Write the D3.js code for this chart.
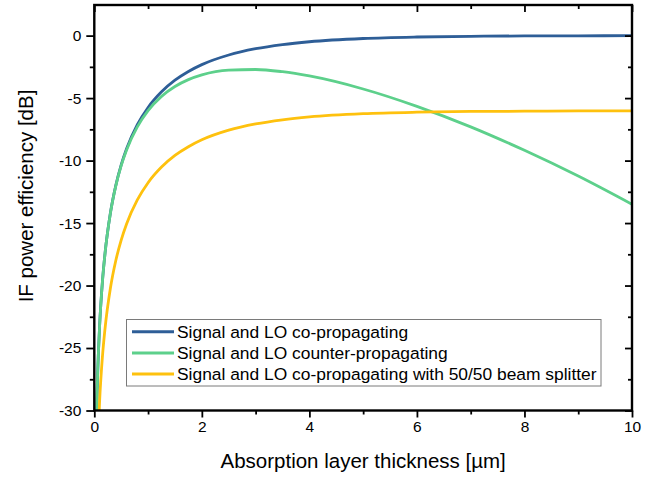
<!DOCTYPE html>
<html>
<head>
<meta charset="utf-8">
<script src="https://cdn.jsdelivr.net/npm/d3@7/dist/d3.min.js"></script>
<style>
  html, body { margin: 0; padding: 0; background: #fff; }
  svg { display: block; font-family: "Liberation Sans", Arial, sans-serif; }
</style>
</head>
<body>
<svg id="chart" width="663" height="478"></svg>
<script>
// Absorption layer thickness [µm]
const thickness = [0.03, 0.05, 0.075, 0.1, 0.15, 0.2, 0.3, 0.4, 0.5, 0.6, 0.8, 1.0, 1.25, 1.5, 1.75,
                   2.0, 2.5, 3.0, 3.5, 4.0, 5, 6, 7, 8, 9, 10];

// IF power efficiency [dB] for each configuration
const coPropagating = [-33.35, -28.97, -25.53, -23.11, -19.74, -17.40, -14.18, -11.98, -10.34, -9.05, -7.13,
                       -5.75, -4.50, -3.57, -2.87, -2.32, -1.55, -1.05, -0.72, -0.49, -0.23, -0.11, -0.054,
                       -0.026, -0.013, -0.006];
const counterPropagating = [-33.35, -28.97, -25.54, -23.12, -19.75, -17.41, -14.20, -12.02, -10.41, -9.15, -7.30,
                            -6.00, -4.86, -4.07, -3.52, -3.14, -2.76, -2.71, -2.89, -3.23, -4.27, -5.66, -7.30,
                            -9.18, -11.24, -13.50];
const coPropagatingSplitter = [-39.37, -34.99, -31.55, -29.13, -25.76, -23.42, -20.20, -18.00, -16.36, -15.07, -13.15,
                               -11.77, -10.52, -9.59, -8.89, -8.34, -7.57, -7.07, -6.74, -6.51, -6.25, -6.13, -6.07,
                               -6.05, -6.03, -6.03];

const seriesNames = [
  "Signal and LO co-propagating",
  "Signal and LO counter-propagating",
  "Signal and LO co-propagating with 50/50 beam splitter"
];
const seriesColors = ["#2e5e97", "#5dd08b", "#fec10e"];
const seriesValues = [coPropagating, counterPropagating, coPropagatingSplitter];

const xMajorTicks = [0, 2, 4, 6, 8, 10];
const xMinorTicks = [1, 3, 5, 7, 9];
const yMajorTicks = [-30, -25, -20, -15, -10, -5, 0];
const yMinorTicks = [-27.5, -22.5, -17.5, -12.5, -7.5, -2.5];

const svg = d3.select("#chart");
const plot = { left: 94.3, right: 632, top: 5, bottom: 410.5 };

const x = d3.scaleLinear().domain([0, 10]).range([plot.left, plot.right]);
const y = d3.scaleLinear().domain([-30, 2.45]).range([plot.bottom, plot.top]);

svg.append("rect").attr("width", 663).attr("height", 478).attr("fill", "#fff");

svg.append("defs").append("clipPath").attr("id", "plot-clip")
  .append("rect")
  .attr("x", plot.left).attr("y", plot.top)
  .attr("width", plot.right - plot.left).attr("height", plot.bottom - plot.top);

// curves
const line = d3.line()
  .x(d => x(d[0]))
  .y(d => y(d[1]))
  .curve(d3.curveMonotoneX);

const curves = svg.append("g").attr("clip-path", "url(#plot-clip)");
seriesValues.forEach((vals, i) => {
  curves.append("path")
    .datum(thickness.map((t, j) => [t, vals[j]]))
    .attr("fill", "none")
    .attr("stroke", seriesColors[i])
    .attr("stroke-width", 2.8)
    .attr("stroke-linejoin", "round")
    .attr("d", line);
});

// axes
const fmt = d => String(d);
function styleAxis(g, labelSize) {
  g.select(".domain").remove();
  g.selectAll(".tick line").attr("stroke", "#000").attr("stroke-width", 1.8);
  g.selectAll(".tick text").attr("fill", "#000").style("font-size", labelSize + "px")
    .style("font-family", "'Liberation Sans', Arial, sans-serif");
}

const bottomMajor = svg.append("g").attr("transform", `translate(0,${plot.bottom})`)
  .call(d3.axisBottom(x).tickValues(xMajorTicks).tickSize(7).tickPadding(3).tickFormat(fmt));
styleAxis(bottomMajor, 15.5);
const bottomMinor = svg.append("g").attr("transform", `translate(0,${plot.bottom})`)
  .call(d3.axisBottom(x).tickValues(xMinorTicks).tickSize(4).tickFormat(""));
styleAxis(bottomMinor, 15.5);

const topMajor = svg.append("g").attr("transform", `translate(0,${plot.top})`)
  .call(d3.axisTop(x).tickValues(xMajorTicks).tickSize(-7).tickFormat(""));
styleAxis(topMajor, 15.5);
const topMinor = svg.append("g").attr("transform", `translate(0,${plot.top})`)
  .call(d3.axisTop(x).tickValues(xMinorTicks).tickSize(-4).tickFormat(""));
styleAxis(topMinor, 15.5);

const leftMajor = svg.append("g").attr("transform", `translate(${plot.left},0)`)
  .call(d3.axisLeft(y).tickValues(yMajorTicks).tickSize(8).tickPadding(5).tickFormat(fmt));
styleAxis(leftMajor, 15.5);
const leftMinor = svg.append("g").attr("transform", `translate(${plot.left},0)`)
  .call(d3.axisLeft(y).tickValues(yMinorTicks).tickSize(4.5).tickFormat(""));
styleAxis(leftMinor, 15.5);

const rightMajor = svg.append("g").attr("transform", `translate(${plot.right},0)`)
  .call(d3.axisRight(y).tickValues(yMajorTicks).tickSize(-7).tickFormat(""));
styleAxis(rightMajor, 15.5);
const rightMinor = svg.append("g").attr("transform", `translate(${plot.right},0)`)
  .call(d3.axisRight(y).tickValues(yMinorTicks).tickSize(-4).tickFormat(""));
styleAxis(rightMinor, 15.5);

// frame
svg.append("rect")
  .attr("x", plot.left).attr("y", plot.top)
  .attr("width", plot.right - plot.left).attr("height", plot.bottom - plot.top)
  .attr("fill", "none").attr("stroke", "#000").attr("stroke-width", 2.4);

// axis titles
svg.append("text")
  .attr("x", (plot.left + plot.right) / 2).attr("y", 468)
  .attr("text-anchor", "middle")
  .style("font-size", "20.5px")
  .text("Absorption layer thickness [µm]");

svg.append("text")
  .attr("transform", "translate(33,196) rotate(-90)")
  .attr("text-anchor", "middle")
  .style("font-size", "20.5px")
  .text("IF power efficiency [dB]");

// legend
const legend = svg.append("g");
legend.append("rect")
  .attr("x", 126.5).attr("y", 319.5).attr("width", 474.5).attr("height", 66.5)
  .attr("fill", "#fff").attr("stroke", "#7a7a7a").attr("stroke-width", 1);
seriesNames.forEach((name, i) => {
  const cy = 331.7 + i * 21.2;
  legend.append("line")
    .attr("x1", 132).attr("x2", 174).attr("y1", cy).attr("y2", cy)
    .attr("stroke", seriesColors[i]).attr("stroke-width", 3);
  legend.append("text")
    .attr("x", 177).attr("y", cy + 6.1)
    .style("font-size", "17.4px")
    .text(name);
});
</script>
</body>
</html>
